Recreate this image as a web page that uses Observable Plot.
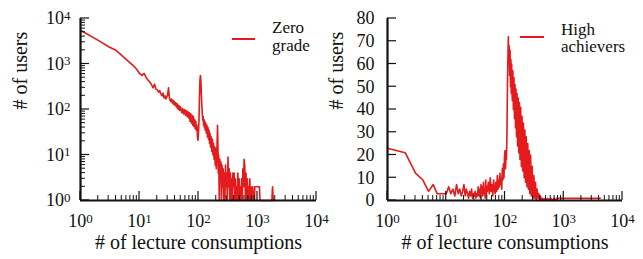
<!DOCTYPE html>
<html><head><meta charset="utf-8">
<script src="https://cdn.jsdelivr.net/npm/d3@7"></script>
<script src="https://cdn.jsdelivr.net/npm/@observablehq/plot@0.6"></script>
<style>
body{margin:0;background:#fff;}
#wrap{position:relative;width:643px;height:259px;display:flex;font-family:"Liberation Serif","DejaVu Serif",serif;color:#000;}
#wrap svg{overflow:visible;background:transparent;}
.leg{position:absolute;font-size:17px;line-height:17.5px;color:#111;white-space:nowrap;}
.legline{position:absolute;height:2px;background:#e41a1c;}
</style></head><body>
<div id="wrap"></div>
<script>
// ---- data ----
const zeroGrade = [
[1,5500],[2,3300],[3,2400],[4,2000],[5,1550],[6,1250],[7,1050],[8,900],[9,760],[10,620],
[11,560],[12,620],[13,500],[14,440],[15,400],[16,350],[17,300],[18,360],[19,280],[20,270],
[21,240],[22,260],[23,220],[24,200],[25,230],[26,180],[27,200],[28,170],[29,190],[30,210],
[31,300],[32,190],[33,160],[34,150],[35,170],[36,140],[37,160],[38,130],[39,150],[40,125],
[41,140],[42,115],[43,135],[44,105],[45,125],[46,100],[47,120],[48,95],[49,115],[50,110],
[52,85],[54,105],[56,80],[58,100],[60,75],[62,95],[64,70],[66,90],[68,65],[70,85],
[72,55],[74,80],[76,50],[78,75],[80,45],[82,70],[84,42],[86,60],[88,38],[90,55],
[92,35],[94,45],[96,25],[98,21],[100,30],[102,60],[104,200],[106,450],[108,560],[110,400],
[112,200],[114,120],[116,80],[118,58],[120,70],[122,45],[124,60],[126,40],[128,55],[130,35],
[133,50],[136,30],[139,45],[142,25],[145,40],[148,22],[151,35],[154,18],[157,30],[160,15],
[164,25],[168,12],[172,22],[176,10],[180,18],[184,8],[188,15],[192,6],[196,14],[200,5],
[205,12],[210,45],[213,20],[216,4],[220,10],[225,1],[230,8],[235,3],[240,7],[245,1],
[250,6],[256,2],[262,5],[268,1],[274,4],[280,1],[287,6],[294,2],[301,4],[308,1],
[316,9],[324,2],[332,5],[340,1],[348,4],[356,1],[365,3],[374,1],[383,4],[392,2],
[402,4],[412,1],[422,3],[432,1],[443,2],[454,1],[465,4],[476,1],[488,3],[500,1],
[512,2],[525,1],[538,3],[551,1],[565,5],[579,2],[593,8],[608,6],[623,1],[638,4],
[654,1],[670,3],[687,1],[704,2],[722,1],[740,3],[760,1],[780,2],[800,1],[830,2],
[860,1],[890,1],[900,2],[1080,2],[1100,1],[1750,1],[1800,2],[1850,1],[1900,1]
];
const highAchievers = [
[1,23],[2,21],[3,12],[4,9],[5,4],[6,7],[7,3],[8,3],[9,3],[10,3],
[11,6],[12,3],[13,5],[14,2],[15,7],[16,3],[17,5],[18,2],[19,4],[20,7],
[21,2],[22,5],[23,3],[24,1],[25,4],[26,2],[27,5],[28,1],[29,3],[30,2],
[31,4],[32,1],[33,3],[34,2],[35,6],[36,2],[37,5],[38,1],[39,7],[40,3],
[41,6],[42,2],[43,8],[44,3],[45,5],[46,1],[47,9],[48,2],[49,6],[50,4],
[52,8],[54,3],[56,10],[58,4],[60,7],[62,2],[64,9],[66,5],[68,3],[70,8],
[72,4],[74,11],[76,5],[78,9],[80,6],[82,12],[84,7],[86,10],[88,5],[90,14],
[92,9],[94,16],[96,10],[98,19],[100,22],[102,14],[104,20],[106,18],[108,30],[110,50],
[112,62],[114,72],[116,60],[118,68],[120,55],[122,66],[124,50],[126,62],[128,47],[130,60],
[133,44],[136,57],[139,40],[142,54],[145,36],[148,51],[151,32],[154,49],[157,28],[160,47],
[164,24],[168,45],[172,21],[176,43],[180,18],[185,41],[190,15],[195,37],[200,13],[206,34],
[212,10],[218,31],[224,8],[230,28],[237,6],[244,25],[251,5],[258,22],[265,3],[273,20],
[281,2],[290,15],[300,1],[310,11],[320,1],[330,8],[341,0],[352,5],[364,1],[376,3],
[388,0],[400,2],[420,0],[440,1],[460,0],[480,1],[500,0],[530,1],[560,0],[600,1],
[640,0],[680,1],[720,0],[760,1],[800,1],[1000,1],[2000,1],[4200,1]
];
const decadeTicks = [1, 10, 100, 1000, 10000];
const minorMultipliers = [2, 3, 4, 5, 6, 7, 8, 9];
const highYTicks = [0, 10, 20, 30, 40, 50, 60, 70, 80];
const xLabel = "# of lecture consumptions";
const yLabel = "# of users";
const seriesNames = ["Zero\ngrade", "High\nachievers"];
const lineColor = "#e41a1c";

// ---- helpers ----
const FONT = '"Liberation Serif", "DejaVu Serif", serif';
const minorLog = decadeTicks.slice(0, -1).flatMap(d => minorMultipliers.map(m => d * m));
const sup = d => "10^" + Math.round(Math.log10(d));
const H = 259, MT = 18, MB = 59;
const MAJOR = 9, MINOR = 5;

function panel({width, marginLeft, marginRight, data, yType, yDomain, yTicks, yFormat, yPad, yLabelDx}) {
  return Plot.plot({
    width, height: H, marginLeft, marginRight, marginTop: MT, marginBottom: MB,
    style: {fontFamily: FONT, fontSize: "18px", color: "#111", background: "transparent", overflow: "visible"},
    x: {type: "log", domain: [1, 10000]},
    y: {type: yType, domain: yDomain},
    marks: [
      Plot.line(data, {x: d => d[0], y: d => d[1], stroke: lineColor, strokeWidth: 1.6}),
      Plot.ruleY([yDomain[0]], {stroke: "#111", strokeWidth: 2.2}),
      Plot.ruleX([1], {stroke: "#111", strokeWidth: 2.2}),
      Plot.axisX(decadeTicks, {tickSize: 0, tickPadding: 14, tickFormat: sup, label: null, fontSize: 18}),
      Plot.axisY(yTicks, {tickSize: 0, tickPadding: yPad, tickFormat: yFormat, label: null, fontSize: 18}),
      Plot.text([xLabel], {frameAnchor: "bottom", dy: 48, fontSize: 20, fill: "#111"}),
      Plot.text([yLabel], {frameAnchor: "left", rotate: -90, dx: yLabelDx, fontSize: 20, fill: "#111"})
    ]
  });
}

// inward ticks, placed with the plot's own scales
function addTicks(svg, xMajor, xMinor, yMajor, yMinor) {
  const sx = svg.scale("x"), sy = svg.scale("y");
  const x0 = sx.range[0], y0 = sy.range[0];
  const g = d3.select(svg).append("g").attr("stroke", "#111");
  const put = (vals, len, w, vertical) => vals.forEach(v => {
    if (vertical) { const px = sx.apply(v); g.append("line").attr("x1", px).attr("x2", px).attr("y1", y0).attr("y2", y0 - len).attr("stroke-width", w); }
    else { const py = sy.apply(v); g.append("line").attr("y1", py).attr("y2", py).attr("x1", x0).attr("x2", x0 + len).attr("stroke-width", w); }
  });
  put(xMajor, MAJOR, 1.2, true);
  put(xMinor, MINOR, 1, true);
  put(yMajor, MAJOR, 1.2, false);
  if (yMinor) put(yMinor, MINOR, 1, false);
}

const left = panel({
  width: 321, marginLeft: 80, marginRight: 5, data: zeroGrade,
  yType: "log", yDomain: [1, 10000], yTicks: decadeTicks, yFormat: sup, yPad: 10, yLabelDx: -60
});
const right = panel({
  width: 322, marginLeft: 66, marginRight: 21, data: highAchievers,
  yType: "linear", yDomain: [0, 80], yTicks: highYTicks, yFormat: d => String(d), yPad: 13, yLabelDx: -51
});
addTicks(left, decadeTicks, minorLog, decadeTicks, minorLog);
addTicks(right, decadeTicks, minorLog, highYTicks, null);

const wrap = document.getElementById("wrap");
wrap.append(left, right);

// superscript exponents
wrap.querySelectorAll("text").forEach(t => {
  const m = /^10\^(\d)$/.exec(t.textContent);
  if (!m) return;
  t.textContent = "10";
  const ts = document.createElementNS("http://www.w3.org/2000/svg", "tspan");
  ts.setAttribute("dy", "-0.35em");
  ts.setAttribute("font-size", "0.72em");
  ts.textContent = m[1];
  t.appendChild(ts);
});

// legends
function legend(lineLeft, lineTop, lineWidth, textLeft, textTop, name) {
  const l = document.createElement("div");
  l.className = "legline";
  Object.assign(l.style, {left: lineLeft + "px", top: lineTop + "px", width: lineWidth + "px"});
  const t = document.createElement("div");
  t.className = "leg";
  Object.assign(t.style, {left: textLeft + "px", top: textTop + "px"});
  name.split("\n").forEach((s, i) => { if (i) t.appendChild(document.createElement("br")); t.appendChild(document.createTextNode(s)); });
  wrap.append(l, t);
}
legend(232, 38, 23, 272, 19, seriesNames[0]);
legend(520, 36, 24, 561, 20.5, seriesNames[1]);
</script>
</body></html>
